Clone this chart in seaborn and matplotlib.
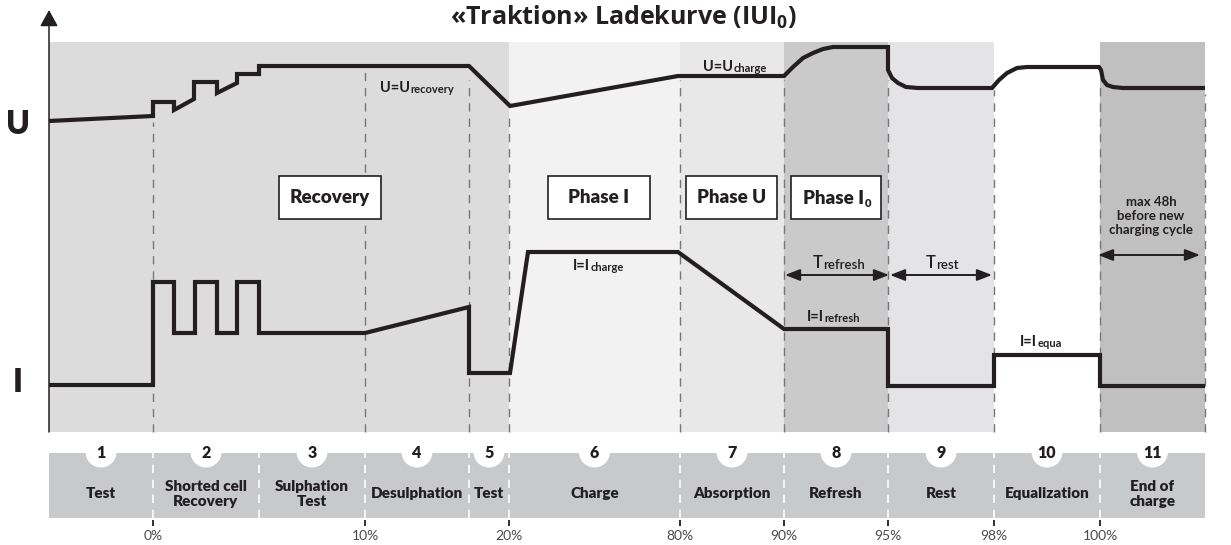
import matplotlib.pyplot as plt
import matplotlib.patches as mpatches
import pandas as pd
import seaborn as sns

# schematic units: x = time (pixel-like units from the U/I axis), y = level above the time axis
phase_edges = [0, 104, 210, 316, 420, 460, 631, 735, 839, 945, 1051, 1156]
phase_names = ['Test', 'Shorted cell\nRecovery', 'Sulphation\nTest', 'Desulphation', 'Test',
               'Charge', 'Absorption', 'Refresh', 'Rest', 'Equalization', 'End of\ncharge']
pct_pos = [104, 316, 460, 631, 735, 839, 945, 1051]
pct_labels = ['0%', '10%', '20%', '80%', '90%', '95%', '98%', '100%']

shade_edges = [0, 460, 631, 735, 839, 945, 1051, 1156]
shade_colors = ['#dcdcdc', '#f2f2f2', '#e8e8e8', '#cacaca', '#e4e4e6', '#ffffff', '#c0c0c0']

# voltage curve U
u_x = [0, 104, 104, 125, 125, 145, 145, 168, 168, 188, 188, 210, 210, 420, 461, 629, 735,
       744, 754, 764, 774, 784, 792, 839, 839, 843, 849, 857, 869, 943, 950, 958, 968, 978,
       986, 1050, 1052, 1054, 1058, 1064, 1074, 1156]
u_y = [311, 316, 330, 330, 322, 333, 350, 350, 339, 349, 358, 358, 366, 366, 326, 356, 356,
       365, 374, 379, 383, 385, 385, 385, 362, 354, 349, 345, 344, 344, 352, 359, 364, 365,
       365, 365, 362, 352, 347, 345, 344, 344]

# current curve I
i_x = [0, 104, 104, 125, 125, 146, 146, 168, 168, 188, 188, 210, 210, 316, 420, 420, 461, 479,
       629, 735, 839, 839, 945, 945, 1051, 1051, 1156]
i_y = [47, 47, 150, 150, 99, 99, 150, 150, 99, 99, 150, 150, 99, 99, 125, 59, 59, 180, 180,
       103, 103, 46, 46, 77, 77, 46, 46]

dash_x = [104, 316, 420, 460, 631, 735, 839, 945, 1051, 1156]
dash_top = [310, 364, 352, 319, 352, 352, 352, 342, 345, 338]

boxes = [('Recovery', 230, 102), ('Phase I', 499, 102), ('Phase U', 637, 91), ('Phase I', 742, 90)]

ink = '#231f20'
heavy = 'heavy'

sns.set_style('white')
plt.rcParams['font.family'] = ['Lato', 'DejaVu Sans']
plt.rcParams['mathtext.fontset'] = 'custom'
plt.rcParams['mathtext.rm'] = 'Open Sans:bold'
plt.rcParams['mathtext.it'] = 'Open Sans:bold'
plt.rcParams['mathtext.bf'] = 'Open Sans:bold'

fig = plt.figure(figsize=(12.31, 5.45), dpi=100)
ax = fig.add_axes([0, 0, 1, 1])
ax.set_xlim(-49, 1182)
ax.set_ylim(-113, 432)
ax.axis('off')

# background bands
for x0, x1, c in zip(shade_edges[:-1], shade_edges[1:], shade_colors):
    ax.fill_between([x0, x1], 0, 390, color=c, lw=0, zorder=0)

ax.vlines(dash_x, 0, dash_top, colors='#777777', linestyles=(0, (6, 5)), lw=1.0, zorder=1)

# curves
sns.lineplot(data=pd.DataFrame({'t': u_x, 'v': u_y}), x='t', y='v', sort=False,
             estimator=None, color=ink, lw=3.0, ax=ax, zorder=3,
             solid_joinstyle='miter', solid_capstyle='butt')
sns.lineplot(data=pd.DataFrame({'t': i_x, 'v': i_y}), x='t', y='v', sort=False,
             estimator=None, color=ink, lw=3.0, ax=ax, zorder=3,
             solid_joinstyle='miter', solid_capstyle='butt')
ax.axis('off')

# axes arrows
axis_arrow = dict(arrowstyle='-|>,head_length=1.0,head_width=0.55', mutation_scale=10,
                  color=ink, lw=1.1, shrinkA=0, shrinkB=0)
ax.annotate('', xy=(0, 422), xytext=(0, 0), arrowprops=axis_arrow, zorder=5)
ax.annotate('', xy=(1183, 0), xytext=(0, 0), arrowprops=axis_arrow, zorder=5)

ax.text(-31, 308, 'U', fontsize=23, fontweight=heavy, ha='center', va='center', color=ink)
ax.text(-31, 49, 'I', fontsize=23, fontweight=heavy, ha='center', va='center', color=ink)

ax.text(401, 415, r'«Traktion» Ladekurve (IUI$_0$)', family='Open Sans', fontsize=18,
        fontweight='bold', ha='left', va='center', color=ink)


def sub_text(x, y, big, small, big_size, small_size, weight='bold', dy=0):
    t = ax.text(x, y, big, fontsize=big_size, fontweight=weight, ha='left',
                va='baseline', color=ink, zorder=6)
    ax.annotate(small, xy=(1, 0), xycoords=t, xytext=(0.3, dy), textcoords='offset points',
                fontsize=small_size, fontweight=weight, ha='left', va='bottom', color=ink,
                zorder=6)
    return t


# phase boxes
for label, x0, w in boxes:
    ax.add_patch(mpatches.Rectangle((x0, 213), w, 43, fc='white', ec=ink, lw=1.2, zorder=4))
    if x0 == 742:
        sub_text(x0 + 12, 228, label, '0', 13.5, 8, weight=heavy, dy=-1.5)
    else:
        ax.text(x0 + w / 2, 234.5, label, fontsize=13.5, fontweight=heavy, ha='center',
                va='center', color=ink, zorder=5)

sub_text(331, 340, 'U=U', 'recovery', 10.5, 8)
sub_text(654, 361, 'U=U', 'charge', 10.5, 8)
sub_text(524, 162, 'I=I', 'charge', 10.5, 8)
sub_text(758, 111, 'I=I', 'refresh', 10.5, 8)
sub_text(971, 86, 'I=I', 'equa', 10.5, 8)
sub_text(764, 164, 'T', 'refresh', 12, 9.5, weight=600)
sub_text(877, 164, 'T', 'rest', 12, 9.5, weight=600)

ax.text(1102, 216, 'max 48h\nbefore new\ncharging cycle', fontsize=9.5, fontweight='bold',
        ha='center', va='center', linespacing=1.25, color=ink)

dbl = dict(arrowstyle='<|-|>,head_length=0.9,head_width=0.35', mutation_scale=10,
           color=ink, lw=1.4, shrinkA=0, shrinkB=0)
ax.annotate('', xy=(840, 157), xytext=(736, 157), arrowprops=dbl)
ax.annotate('', xy=(943, 157), xytext=(841, 157), arrowprops=dbl)
ax.annotate('', xy=(1151, 177), xytext=(1049, 177), arrowprops=dbl)

# bottom phase strip
ax.add_patch(mpatches.Rectangle((0, -86), 1156, 65, fc='#c8c9cb', ec='none', zorder=2))
ax.vlines(phase_edges[1:-1], -86, -21, colors='white', linestyles=(0, (5, 4)), lw=1.2, zorder=3)
for k, (x0, x1, name) in enumerate(zip(phase_edges[:-1], phase_edges[1:], phase_names)):
    cx = (x0 + x1) / 2
    ax.add_patch(mpatches.Circle((cx, -20), 15.5, fc='white', ec='none', zorder=3))
    ax.text(cx, -21, str(k + 1), fontsize=11.5, fontweight=heavy, ha='center', va='center',
            color=ink, zorder=4)
    ax.text(cx, -62, name, fontsize=11, fontweight=heavy, ha='center', va='center',
            linespacing=1.2, color=ink, zorder=4)

ax.vlines(pct_pos, -94, -88, colors=ink, lw=1.3)
for x, lab in zip(pct_pos, pct_labels):
    ax.text(x, -104, lab, fontsize=10, fontweight='normal', ha='center', va='center',
            color='#4a4a4a')

fig.savefig('out.png', dpi=100)
